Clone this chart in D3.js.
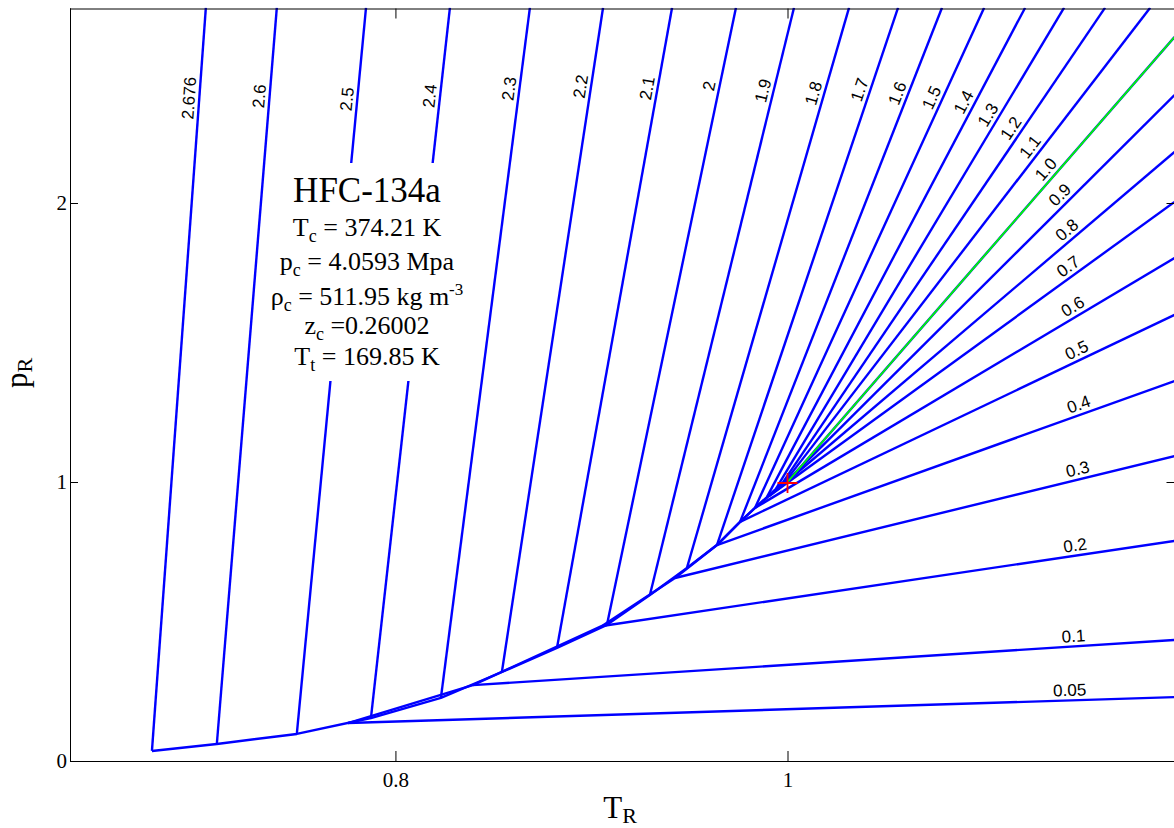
<!DOCTYPE html>
<html>
<head>
<meta charset="utf-8">
<script src="https://d3js.org/d3.v7.min.js"></script>
<style>
  body { margin: 0; background: #fff; }
  svg { display: block; }
</style>
</head>
<body>
<div id="chart"></div>
<script>
// liquid-side isochores: reduced density, start on the saturation curve, end at the top of the frame
const rhoLiquid = ["2.676","2.6","2.5","2.4","2.3","2.2","2.1","2","1.9","1.8","1.7","1.6","1.5","1.4","1.3","1.2","1.1"]
const liqStartT = [0.6758,0.7089,0.7497,0.7875,0.8232,0.8543,0.8824,0.9079,0.9298,0.9487,0.9640,0.9758,0.9834,0.9895,0.9941,0.9967,0.9982]
const liqStartP = [0.036,0.061,0.097,0.154,0.226,0.319,0.405,0.488,0.595,0.692,0.774,0.857,0.907,0.946,0.975,0.989,0.996]
const liqTopT   = [0.7033,0.7395,0.7850,0.8278,0.8686,0.9059,0.9411,0.9737,1.0033,1.0314,1.0564,1.0788,1.1003,1.1212,1.1411,1.1620,1.1850]
const liqLabelP = [2.373,2.380,2.369,2.380,2.405,2.412,2.405,2.412,2.394,2.383,2.394,2.380,2.362,2.344,2.297,2.247,2.179]

// vapour-side isochores: start on the saturation curve, end at the right of the frame
const rhoVapour = ["1.0","0.9","0.8","0.7","0.6","0.5","0.4","0.3","0.2","0.1","0.05"]
const vapStartT = [1.0,0.9977,0.9952,0.9906,0.9834,0.9758,0.9640,0.9426,0.9054,0.8395,0.7758]
const vapStartP = [1.0,0.989,0.975,0.950,0.907,0.857,0.774,0.656,0.484,0.272,0.136]
const vapEndP   = [2.595,2.387,2.183,2.004,1.803,1.599,1.362,1.093,0.789,0.434,0.229]
const vapLabelT = [1.1357,1.1426,1.1459,1.1462,1.1482,1.1497,1.1503,1.1492,1.1474,1.1462,1.1441]

const criticalPoint = [1, 1]
const xTicks = [0.8, 1]
const yTicks = [0, 1, 2]
const infoLines = ["T_c = 374.21 K", "p_c = 4.0593 Mpa", "ρ_c = 511.95 kg m^-3", "z_c =0.26002", "T_t = 169.85 K"]

const width = 1174, height = 828
const TMIN = 0.634, TMAX = 1.1974, PMAX = 2.7

const x = d3.scaleLinear().domain([TMIN, TMAX]).range([70, 1174.5])
const y = d3.scaleLinear().domain([0, PMAX]).range([761, 7.7])

const svg = d3.select("#chart").append("svg")
  .attr("width", width)
  .attr("height", height)
  .style("background-color", "#fff")

svg.append("clipPath").attr("id", "plot")
  .append("rect")
  .attr("x", x(TMIN)).attr("y", y(PMAX))
  .attr("width", x(TMAX) - x(TMIN)).attr("height", y(0) - y(PMAX))

// build the isochore polylines from the arrays
const isochores = []
rhoLiquid.forEach((r, i) => isochores.push({
  label: r, key: 1, at: liqLabelP[i],
  pts: [[liqStartT[i], liqStartP[i]], [liqTopT[i], PMAX]]
}))
rhoVapour.forEach((r, i) => isochores.push({
  label: r, key: 0, at: vapLabelT[i],
  pts: [[vapStartT[i], vapStartP[i]], [TMAX, vapEndP[i]]]
}))

const line = d3.line().x(d => x(d[0])).y(d => y(d[1]))
const plot = svg.append("g").attr("clip-path", "url(#plot)")

// saturation boundary: join the start points of each family up to the critical point
const liqSat = rhoLiquid.map((r, i) => [liqStartT[i], liqStartP[i]]).concat([criticalPoint])
const vapSat = rhoVapour.map((r, i) => [vapStartT[i], vapStartP[i]]).reverse()
plot.selectAll(".sat").data([liqSat, vapSat]).join("path")
  .attr("class", "sat")
  .attr("d", line)
  .attr("fill", "none")
  .attr("stroke", "#0000ff")
  .attr("stroke-width", 2.4)
  .attr("stroke-linejoin", "round")

plot.selectAll(".iso").data(isochores).join("path")
  .attr("class", "iso")
  .attr("d", d => line(d.pts))
  .attr("fill", "none")
  .attr("stroke", "#0000ff")
  .attr("stroke-width", 2.4)
  .attr("stroke-linejoin", "round")

// critical isochore highlighted in green
plot.append("path")
  .attr("d", line(isochores.find(d => d.label === "1.0").pts))
  .attr("fill", "none")
  .attr("stroke", "#00ff00")
  .attr("stroke-width", 1.8)

// contour style labels
function labelPlace(d) {
  const k = d.key
  for (let i = 0; i < d.pts.length - 1; i++) {
    const a = d.pts[i], b = d.pts[i + 1]
    if ((d.at - a[k]) * (d.at - b[k]) <= 0) {
      const f = (d.at - a[k]) / (b[k] - a[k])
      const px = x(a[0] + f * (b[0] - a[0])), py = y(a[1] + f * (b[1] - a[1]))
      const dx = x(b[0]) - x(a[0]), dy = y(b[1]) - y(a[1])
      const len = Math.hypot(dx, dy)
      const off = 10
      return {
        x: px + off * dy / len,
        y: py - off * dx / len,
        angle: Math.atan2(dy, dx) * 180 / Math.PI
      }
    }
  }
  return {x: 0, y: 0, angle: 0}
}

svg.selectAll(".lab").data(isochores).join("text")
  .attr("class", "lab")
  .attr("transform", d => {
    const p = labelPlace(d)
    return `translate(${p.x},${p.y}) rotate(${p.angle})`
  })
  .attr("text-anchor", "middle")
  .attr("dominant-baseline", "central")
  .style("font-family", "'Liberation Sans', Arial, sans-serif")
  .style("font-size", "17px")
  .style("fill", "#000")
  .text(d => d.label)

// critical point marker
const cx = x(criticalPoint[0]), cy = y(criticalPoint[1])
svg.append("path")
  .attr("d", `M${cx - 10},${cy + 1}H${cx + 10}M${cx},${cy - 9}V${cy + 11}`)
  .attr("stroke", "#ff0000")
  .attr("stroke-width", 1.8)
  .attr("fill", "none")

// info box
const info = svg.append("g")
const serif = "'Liberation Serif', 'Times New Roman', serif"
const infoX = 367
info.append("text")
  .attr("x", infoX).attr("y", 202)
  .attr("text-anchor", "middle")
  .style("font-family", serif).style("font-size", "35px")
  .text("HFC-134a")

const baselines = [236, 270, 305, 334, 365]
infoLines.forEach((s, i) => {
  const t = info.append("text")
    .attr("x", infoX).attr("y", baselines[i])
    .attr("text-anchor", "middle")
    .style("font-family", serif).style("font-size", "26px")
  // split on _ (subscript) and ^ (superscript)
  const m = s.match(/^(.)_(.)(.*?)(\^(.*))?$/)
  t.append("tspan").text(m[1])
  t.append("tspan").attr("dy", 6).style("font-size", "18px").text(m[2])
  t.append("tspan").attr("dy", -6).text(m[3])
  if (m[5]) t.append("tspan").attr("dy", -10).style("font-size", "17px").text(m[5])
})
const bb = info.node().getBBox()
info.insert("rect", ":first-child")
  .attr("x", bb.x - 4).attr("y", bb.y - 8)
  .attr("width", bb.width + 8).attr("height", bb.height + 14)
  .attr("fill", "#fff")

// axes
svg.append("g")
  .attr("transform", `translate(0,${y(0)})`)
  .call(d3.axisBottom(x).tickValues(xTicks).tickSize(-10).tickSizeOuter(0).tickPadding(11)
    .tickFormat(d => d === 1 ? "1" : d3.format(".1f")(d)))
svg.append("g")
  .attr("transform", `translate(0,8.5)`)
  .call(d3.axisTop(x).tickValues(xTicks).tickSize(-10).tickSizeOuter(0).tickFormat(""))
svg.append("g")
  .attr("transform", `translate(${x(TMIN)},0)`)
  .call(d3.axisLeft(y).tickValues(yTicks).tickSize(-8).tickSizeOuter(0).tickPadding(3)
    .tickFormat(d3.format("d")))
svg.append("g")
  .attr("transform", `translate(${x(TMAX)},0)`)
  .call(d3.axisRight(y).tickValues(yTicks).tickSize(-8).tickSizeOuter(0).tickFormat(""))

svg.selectAll(".domain").attr("stroke", "#000").attr("stroke-width", 1)
svg.selectAll(".tick line").attr("stroke", "#000")
svg.selectAll(".tick text")
  .style("font-family", serif)
  .style("font-size", "21px")
  .attr("fill", "#000")

// axis titles
const xt = svg.append("text")
  .attr("x", 620).attr("y", 818)
  .attr("text-anchor", "middle")
  .style("font-family", serif).style("font-size", "31px")
xt.append("tspan").text("T")
xt.append("tspan").attr("dy", 5).style("font-size", "22px").text("R")

const yt = svg.append("text")
  .attr("transform", "translate(27,373) rotate(-90)")
  .attr("text-anchor", "middle")
  .style("font-family", serif).style("font-size", "31px")
yt.append("tspan").text("p")
yt.append("tspan").attr("dy", 5).style("font-size", "22px").text("R")
</script>
</body>
</html>
